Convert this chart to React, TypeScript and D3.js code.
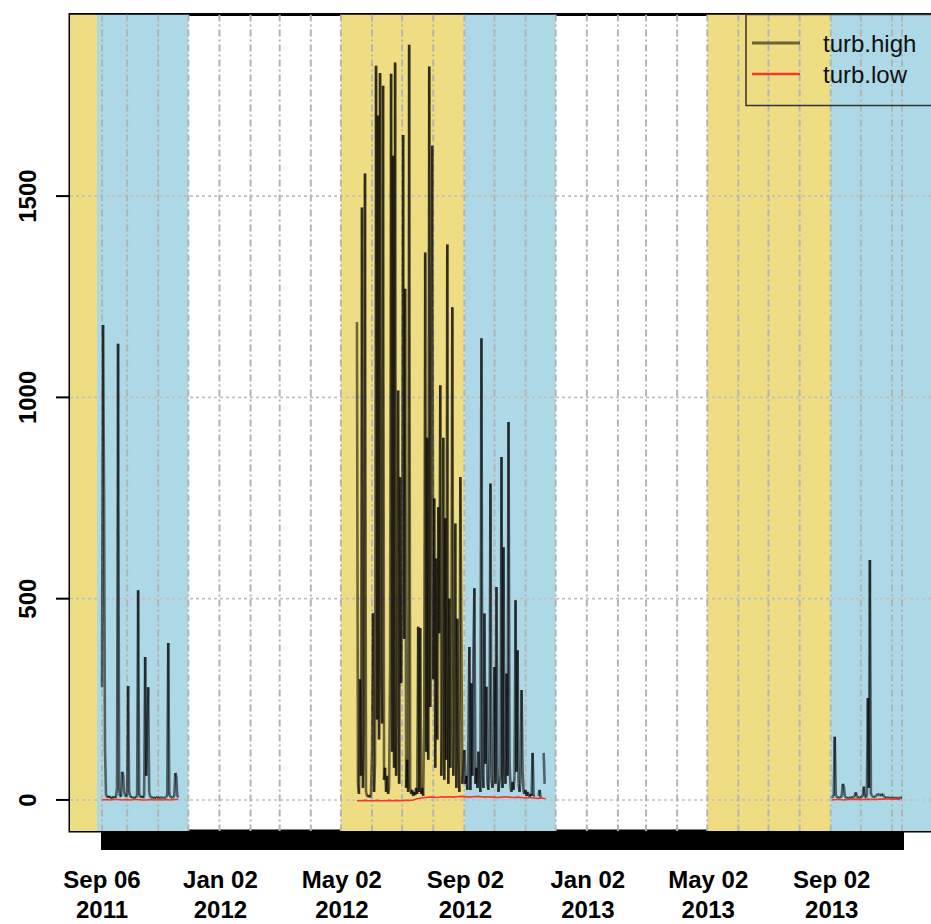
import React from 'react';
import * as d3 from 'd3';

const W = 931;
const H = 924;

// ---- turbidity series (daily values, null = missing) ----
const seg1Start = '2011-09-06';
const seg1High = [
  280, 1180, 770, 125, 12, 8, 6, 10, 5, 7, 4, 6, 9, 5, 8, 30, 1133, 25, 10, 8,
  70, 65, 20, 12, 8, 15, 283, 20, 10, 6, 8, 5, 4, 7, 6, 12, 521, 15, 8, 6,
  10, 5, 9, 355, 60, 174, 280, 20, 8, 6, 5, 7, 4, 6, 5, 8, 6, 4, 5, 7,
  6, 5, 4, 6, 8, 10, 390, 15, 8, 6, 5, 7, 9, 67, 60, 10, 6,
];

const seg2Start = '2012-05-17';
const seg2High = [
  1187, 40, 15, 300, 60, 1472, 30, 200, 1556, 20, 10, 8, 12, 6, 15, 124, 464, 20, 90, 1824,
  200, 1700, 150, 1806, 335, 190, 1774, 50, 80, 20, 60, 15, 30, 327, 1804, 120, 1600, 80, 1832, 60,
  300, 1017, 40, 802, 290, 576, 1652, 400, 1270, 30, 100, 20, 1876, 30, 15, 25, 10, 20, 12, 30,
  15, 430, 20, 427, 15, 30, 10, 200, 1360, 120, 900, 100, 1822, 231, 1100, 1625, 300, 749, 80, 600,
  150, 727, 414, 1030, 60, 174, 900, 50, 700, 100, 1380, 40, 500, 80, 300, 1224, 60, 250, 687, 30,
  450, 100, 20, 802, 414, 40, 80, 124, 40, 60, 25, 150, 380, 25, 290, 60, 355, 526, 40, 80,
  30, 120, 50, 20, 1147, 60, 30, 463, 90, 281, 40, 25, 100, 786, 50, 30, 60, 330, 40, 529,
  80, 20, 45, 60, 852, 30, 628, 90, 40, 314, 60, 939, 92, 30, 20, 45, 25, 60, 496, 70,
  372, 40, 20, 50, 273, 75, 20, 15, 25, 10, 20, 12, 8, 15, 10, 117, 10, 8, null, null,
  null, 10, 25, 5, null, null, 117, 40, null,
];

const seg3Start = '2013-09-02';
const seg3High = [
  5, 8, 10, 157, 12, 8, 6, 5, 7, 6, 10, 40, 35, 8, 6, 5, 4, 6, 5, 7,
  6, 5, 8, 10, 19, 8, 6, 5, 7, 6, 8, 10, 33, 8, 6, 12, 253, 30, 596, 15,
  10, 8, 6, 7, 10, 12, 15, 14, 12, 10, 15, 14, 8, 6, 5, 7, 6, 5, 6, 4,
  5, 6, 5, 4, 6, 5, 4, 5, 6, 5, 5,
];

// turb.low sampled every 4 days
const lowStep = 4;
const seg1Low = [0, 1, 0, 1, 1, 0, 1, 0, 1, 1, 0, 0, 1, 0, 1, 0, 1, 0, 1, 1];
const seg2Low = [
  -2, -2, -1, -2, -2, -1, -2, -2, -1, -2, -1, -2, -1, -1, 0,
  3, 5, 6, 7, 7, 6, 8, 7, 8, 7, 8, 9, 8, 7, 8, 9, 8, 7, 8, 7,
  6, 7, 8, 7, 6, 7, 6, 5, 6, 5, 4, 5, 3,
];
const seg3Low = [0, 1, 1, 0, 1, 1, 2, 1, 1, 2, 1, 1, 2, 2, 3, 2, 2, 1];

// ---- seasonal shading ----
const seasonStarts = ['2011-05-01', '2011-09-01', '2012-05-01', '2012-09-01', '2013-05-01', '2013-09-01'];
const seasonEnds = ['2011-09-01', '2011-12-01', '2012-09-01', '2012-12-01', '2013-09-01', '2014-01-01'];
const seasonKinds = ['summer', 'fall', 'summer', 'fall', 'summer', 'fall'];
const seasonColors: Record<string, string> = { summer: '#EEDD82', fall: '#ADD8E6' };

// ---- axes ----
const xTickDates = ['2011-09-06', '2012-01-02', '2012-05-02', '2012-09-02', '2013-01-02', '2013-05-02', '2013-09-02'];
const xTickLine1 = ['Sep 06', 'Jan 02', 'May 02', 'Sep 02', 'Jan 02', 'May 02', 'Sep 02'];
const xTickLine2 = ['2011', '2012', '2012', '2012', '2013', '2013', '2013'];
const yTicks = [0, 500, 1000, 1500];
const seriesNames = ['turb.high', 'turb.low'];
const seriesColors = ['rgba(0,0,0,0.55)', '#f23a2a'];

const parse = d3.timeParse('%Y-%m-%d');

type Pt = { d: Date; v: number | null };

function build(start: string, vals: (number | null)[], step: number): Pt[] {
  const s = parse(start) as Date;
  return vals.map((v, i) => ({ d: d3.timeDay.offset(s, i * step), v }));
}

const FONT = '"Liberation Sans", Arial, Helvetica, sans-serif';

export default function App() {
  const highSegs = [build(seg1Start, seg1High, 1), build(seg2Start, seg2High, 1), build(seg3Start, seg3High, 1)];
  const lowSegs = [build(seg1Start, seg1Low, lowStep), build(seg2Start, seg2Low, lowStep), build(seg3Start, seg3Low, lowStep)];

  const allHigh = highSegs.flat();
  const allLow = lowSegs.flat();
  const first = allHigh[0].d;
  const last = highSegs[2][highSegs[2].length - 1].d;
  const span = +last - +first;

  const left = 70, right = 934, top = 14.5, bottom = 831;

  const x = d3.scaleTime()
    .domain([new Date(+first - 0.04 * span), new Date(+last + 0.04 * span)])
    .range([left, right]);

  const vals = [...allHigh, ...allLow].map(p => p.v).filter((v): v is number => v != null);
  const ymin = d3.min(vals) as number;
  const ymax = d3.max(vals) as number;
  const yr = ymax - ymin;
  const y = d3.scaleLinear().domain([ymin - 0.04 * yr, ymax + 0.04 * yr]).range([bottom, top]);

  const gridDates = [first, ...d3.timeMonth.range(d3.timeDay.offset(first, 1), last), last];
  const dayTicks = d3.timeDay.range(first, d3.timeDay.offset(last, 2));

  const lowLine = d3.line<Pt>()
    .defined(p => p.v != null)
    .x(p => x(p.d))
    .y(p => y(p.v as number));

  const highPieces: JSX.Element[] = [];
  highSegs.forEach((seg, si) => {
    for (let i = 1; i < seg.length; i++) {
      const a = seg[i - 1], b = seg[i];
      if (a.v == null || b.v == null) continue;
      highPieces.push(
        <line key={`h${si}-${i}`} x1={x(a.d)} y1={y(a.v)} x2={x(b.d)} y2={y(b.v)}
          stroke={seriesColors[0]} strokeWidth={2.6} strokeLinecap="butt" />
      );
    }
  });

  return (
    <svg width={W} height={H} style={{ position: 'absolute', left: 0, top: 0, background: '#fff' }}
      fontFamily={FONT}>
      <defs>
        <clipPath id="plotclip">
          <rect x={left} y={top} width={right - left} height={bottom - top} />
        </clipPath>
      </defs>
      {/* box */}
      <rect x={left} y={top} width={right - left} height={bottom - top} fill="#fff" stroke="#000" strokeWidth={3} />
      {/* shading */}
      <g clipPath="url(#plotclip)">
        {seasonStarts.map((s, i) => {
          const x0 = x(parse(s) as Date);
          const x1 = x(parse(seasonEnds[i]) as Date);
          return <rect key={`s${i}`} x={x0} y={top} width={x1 - x0} height={bottom - top}
            fill={seasonColors[seasonKinds[i]]} />;
        })}
        {/* grid */}
        {yTicks.map(t => (
          <line key={`gy${t}`} x1={left} x2={right} y1={y(t)} y2={y(t)}
            stroke="#c0c0c0" strokeWidth={1.6} strokeDasharray="3,3" />
        ))}
        {gridDates.map((d, i) => (
          <line key={`gx${i}`} x1={x(d)} x2={x(d)} y1={top} y2={bottom}
            stroke="#b4b4b4" strokeWidth={2} strokeDasharray="7,3,2,3" />
        ))}
        {highPieces}
        {lowSegs.map((seg, i) => (
          <path key={`l${i}`} d={lowLine(seg) || ''} fill="none" stroke={seriesColors[1]} strokeWidth={1.6} />
        ))}
      </g>
      {/* x axis tick band */}
      <g shapeRendering="crispEdges">
        {dayTicks.map((d, i) => (
          <line key={`dt${i}`} x1={x(d)} x2={x(d)} y1={bottom + 1} y2={850} stroke="#000" strokeWidth={2} />
        ))}
      </g>
      {xTickDates.map((s, i) => {
        const xx = x(parse(s) as Date);
        return (
          <g key={`xl${i}`} fontSize={24} fontWeight="bold" textAnchor="middle" fill="#000">
            <text x={xx} y={888}>{xTickLine1[i]}</text>
            <text x={xx} y={918}>{xTickLine2[i]}</text>
          </g>
        );
      })}
      {/* y axis */}
      {yTicks.map(t => (
        <g key={`yt${t}`}>
          <line x1={56} x2={left} y1={y(t)} y2={y(t)} stroke="#000" strokeWidth={2} />
          <text transform={`translate(36,${y(t)}) rotate(-90)`} textAnchor="middle" fontSize={24}
            fontWeight="bold" fill="#000">{t}</text>
        </g>
      ))}
      {/* legend */}
      <rect x={746} y={top} width={right - 746} height={105.5 - top} fill="none" stroke="#333" strokeWidth={1.5} />
      {seriesNames.map((n, i) => (
        <g key={`lg${i}`}>
          <line x1={752} x2={800} y1={43 + i * 31} y2={43 + i * 31} stroke={seriesColors[i]} strokeWidth={i === 0 ? 3 : 2.5} />
          <text x={823} y={52 + i * 31} fontSize={24} fill="#111">{n}</text>
        </g>
      ))}
    </svg>
  );
}
